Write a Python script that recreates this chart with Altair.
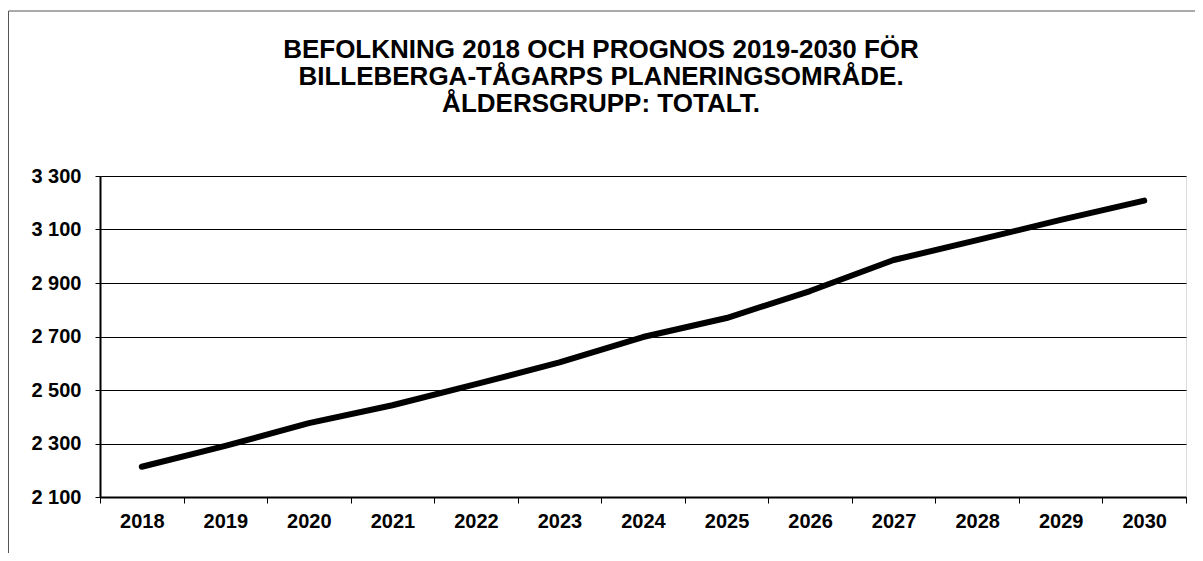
import altair as alt
import pandas as pd

years = ["2018", "2019", "2020", "2021", "2022", "2023", "2024",
         "2025", "2026", "2027", "2028", "2029", "2030"]
population = [2213, 2291, 2376, 2443, 2522, 2603, 2698,
              2769, 2870, 2986, 3060, 3136, 3208]
y_ticks = [2100, 2300, 2500, 2700, 2900, 3100, 3300]
title_lines = [
    "BEFOLKNING 2018 OCH PROGNOS 2019-2030 FÖR",
    "BILLEBERGA-TÅGARPS PLANERINGSOMRÅDE.",
    "ÅLDERSGRUPP: TOTALT.",
]

FONT = "Liberation Sans"
W, H = 1086, 321
PAD = {"left": 92, "top": 168, "right": 9, "bottom": 56}

df = pd.DataFrame({"year": years, "population": population})

x_enc = alt.X(
    "year:O",
    bandPosition=0.5,
    scale=alt.Scale(type="band", paddingInner=0, paddingOuter=0),
    axis=alt.Axis(
        title=None, labelAngle=0, tickBand="extent", ticks=True, tickSize=6,
        tickColor="black", tickWidth=1, domainColor="black", domainWidth=2,
        labelFont=FONT, labelFontSize=20, labelFontWeight="bold",
        labelColor="black", labelPadding=8, grid=False,
    ),
)
y_enc = alt.Y(
    "population:Q",
    scale=alt.Scale(domain=[2100, 3300], nice=False, zero=False),
    axis=alt.Axis(
        title=None, values=y_ticks,
        labelExpr="replace(format(datum.value, ','), ',', ' ')",
        tickSize=5, tickColor="black", tickWidth=1,
        domainColor="black", domainWidth=2,
        grid=True, gridColor="black", gridWidth=1,
        labelFont=FONT, labelFontSize=20, labelFontWeight="bold",
        labelColor="black", labelPadding=14,
    ),
)

line = alt.Chart(df).mark_line(
    color="black", strokeWidth=6, strokeCap="round", strokeJoin="round", clip=False
).encode(x=x_enc, y=y_enc)

one = pd.DataFrame({"a": [0]})
frame_left = alt.Chart(one).mark_rule(color="#555555", strokeWidth=1, clip=False).encode(
    x=alt.value(-91.5), y=alt.value(-165), y2=alt.value(H + PAD["bottom"])
)
frame_top = alt.Chart(one).mark_rule(color="#555555", strokeWidth=1, clip=False).encode(
    x=alt.value(-91.5), x2=alt.value(W + PAD["right"]), y=alt.value(-165)
)

chart = alt.layer(frame_left, frame_top, line).properties(
    width=W, height=H, padding=PAD,
    autosize=alt.AutoSizeParams(type="none"),
    title=alt.TitleParams(
        text=title_lines, font=FONT, fontSize=26, fontWeight="bold",
        color="black", anchor="middle", dx=-42, offset=-106.5, lineHeight=27.0,
    ),
).configure_view(stroke="#808080", strokeWidth=2).configure(background="white")

chart.save("out.html", embed_options={"renderer": "svg", "actions": False})
